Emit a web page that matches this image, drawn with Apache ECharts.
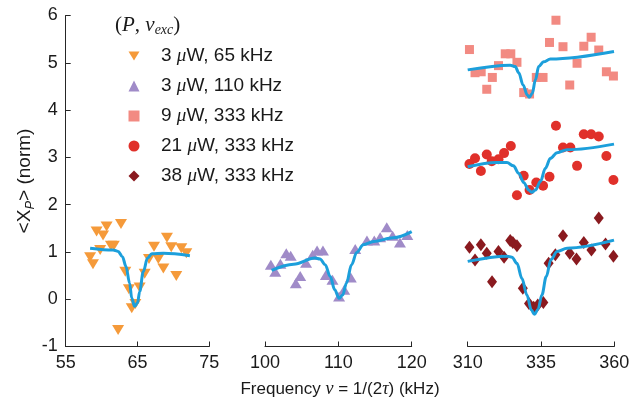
<!DOCTYPE html>
<html>
<head>
<meta charset="utf-8">
<script src="https://cdn.jsdelivr.net/npm/echarts@6/dist/echarts.min.js"></script>
<style>html,body{margin:0;padding:0;background:#fff;}#c{width:632px;height:403px;}</style>
</head>
<body>
<div id="c"></div>
<script>
// ---------- data ----------
const seriesNames = ['3 μW, 65 kHz', '3 μW, 110 kHz', '9 μW, 333 kHz', '21 μW, 333 kHz', '38 μW, 333 kHz'];

const x65 = [58.4,58.8,59.3,59.8,60.2,60.7,61.3,61.7,62.7,62.3,63.3,63.8,64.2,64.7,65.3,66.0,66.6,67.3,67.9,68.6,69.1,69.7,70.4,71.1,71.8];
const y65 = [0.89,0.74,1.43,1.04,1.35,1.54,1.13,1.13,1.59,-0.65,0.58,0.21,-0.19,-0.10,0.25,0.54,0.85,1.11,0.85,0.65,1.30,1.10,0.49,1.08,0.97];
const fit65x = [58.4,61.6,62.3,62.9,63.4,63.9,64.2,64.6,65.0,65.3,65.8,66.4,67.0,68.6,72.3];
const fit65y = [1.08,1.04,1.01,0.90,0.69,0.34,0.02,-0.15,-0.08,0.16,0.58,0.87,0.96,0.97,0.92];

const x110 = [100.8,101.4,102.1,102.9,103.5,104.2,104.8,105.6,106.5,107.1,107.9,108.3,109.2,110.1,110.8,111.7,112.3,113.9,114.9,115.7,116.6,117.4,118.4,119.4];
const y110 = [0.73,0.58,0.75,0.97,0.92,0.34,0.49,0.77,0.94,1.03,1.03,0.51,0.41,0.06,0.20,0.46,1.06,1.24,1.24,1.31,1.52,1.34,1.20,1.36];
const fit110x = [100.9,103.9,106.8,107.5,108.2,108.9,109.5,110.1,110.6,111.1,111.8,112.5,113.4,114.8,117.5,120.0];
const fit110y = [0.61,0.74,0.87,0.85,0.73,0.48,0.20,0.02,0.09,0.34,0.73,0.99,1.15,1.22,1.30,1.43];

const x9 = [310.6,312.5,314.6,316.5,318.4,320.5,322.8,324.7,326.8,329.1,331.1,333.4,335.7,337.9,340.1,342.5,344.8,347.3,349.6,352.1,354.7,357.3,359.7];
const y9 = [5.28,4.79,4.81,4.44,4.69,4.94,5.19,5.19,5.01,4.37,4.34,4.69,4.69,5.43,5.90,5.34,4.53,4.99,5.35,5.54,5.27,4.81,4.72];
const fit9x = [310,324.5,326.2,327.4,328.9,330.3,331.0,332.0,333.1,334.2,335.9,338.2,359.9];
const fit9y = [4.85,4.95,4.92,4.79,4.53,4.32,4.27,4.35,4.64,4.92,5.02,5.08,5.24];

const x21 = [310.6,312.5,314.5,316.5,318.2,320.5,322.4,324.7,326.8,329.1,331.1,333.4,335.7,337.9,340.1,342.5,345.0,347.3,349.6,352.1,354.7,357.3,359.7];
const y21 = [2.86,2.98,2.71,3.06,2.92,2.96,3.09,3.24,2.20,2.61,2.31,2.47,2.40,2.59,3.67,3.21,3.21,2.82,3.49,3.49,3.44,3.03,2.52];
const fit21x = [310,319.9,323.4,325.6,327.4,329.1,330.8,331.9,333.1,334.8,336.5,338.2,340.5,343.9,359.9];
const fit21y = [2.80,2.89,2.89,2.82,2.66,2.47,2.31,2.26,2.31,2.49,2.77,2.98,3.10,3.16,3.28];

const x38 = [310.6,312.5,314.5,316.5,318.3,320.5,322.4,324.5,325.4,326.8,328.8,330.9,332.5,333.9,335.8,337.6,339.9,342.5,344.8,347.1,349.6,352.2,354.7,357.0,359.7];
const y38 = [1.10,0.83,1.15,0.97,0.37,1.01,0.89,1.24,1.20,1.13,0.23,-0.09,-0.17,-0.12,-0.07,0.76,0.94,1.34,0.97,0.85,1.20,1.04,1.72,1.17,0.91];
const fit38x = [310,323.4,325.1,326.8,328.5,330.2,331.7,332.8,334.0,335.3,336.8,338.4,340.5,343.9,359.9];
const fit38y = [0.80,0.91,0.89,0.76,0.44,0.09,-0.23,-0.32,-0.21,0.09,0.48,0.84,1.01,1.08,1.25];

const xRanges = [[55,75,10],[100,120,10],[310,360,25]];
const yTicks = [-1, 6, 1];

// ---------- chart ----------
const FONT = 'Liberation Sans, Arial, sans-serif';
const SERIF = 'Liberation Serif, serif';
const AX = '#262626';
const TXT = '#1a1a1a';
const zip = (a,b) => a.map((v,i)=>[v,b[i]]);

const colors = ['#F59A3A','#A08BC8','#F28A82','#E0302A','#8A1A1F'];
const fitColor = '#1C9FDB';
const downTri = 'path://M0,0 L12,0 L6,10 Z';

const grids = [
  {left: 65.7, top: 15.5, width: 143.6, height: 331, outerBoundsMode:'none', containLabel:false},
  {left: 265, top: 15.5, width: 146.7, height: 331, outerBoundsMode:'none', containLabel:false},
  {left: 467.7, top: 15.5, width: 146.6, height: 331, outerBoundsMode:'none', containLabel:false}
];

const xAxes = xRanges.map((r,i)=>({
  type:'value', gridIndex:i, min:r[0], max:r[1], interval:r[2],
  axisLine:{show:true, onZero:false, lineStyle:{color:AX, width:1}},
  axisTick:{show:true, inside:true, length:5, lineStyle:{color:AX, width:1}},
  axisLabel:{fontSize:18, color:TXT, fontFamily:FONT, margin:8, showMinLabel:true, showMaxLabel:true},
  splitLine:{show:false}
}));

const yAxes = [0,1,2].map(i=>({
  type:'value', gridIndex:i, min:yTicks[0], max:yTicks[1], interval:yTicks[2],
  show: i===0,
  axisLine:{show:true, onZero:false, lineStyle:{color:AX, width:1}},
  axisTick:{show:true, inside:true, length:5, lineStyle:{color:AX, width:1}},
  axisLabel:{fontSize:18, color:TXT, fontFamily:FONT, margin:8, showMinLabel:true, showMaxLabel:true},
  splitLine:{show:false},
  name: i===0 ? '{t|<X}{s|P}{t|> (norm)}' : '',
  nameLocation:'middle', nameGap:29, nameRotate:90,
  nameTextStyle:{rich:{
    t:{fontSize:19, fontFamily:FONT, color:TXT},
    s:{fontSize:13, fontFamily:FONT, fontStyle:'italic', color:TXT, padding:[10,0,0,0]}
  }}
}));

const scatterDefs = [
  {x:x65, y:y65, g:0, symbol:downTri, size:[12,10]},
  {x:x110, y:y110, g:1, symbol:'triangle', size:[12,10]},
  {x:x9, y:y9, g:2, symbol:'rect', size:[9,9]},
  {x:x21, y:y21, g:2, symbol:'circle', size:10},
  {x:x38, y:y38, g:2, symbol:'diamond', size:[10,13]}
];
const fitDefs = [
  {x:fit65x, y:fit65y, g:0},
  {x:fit110x, y:fit110y, g:1},
  {x:fit9x, y:fit9y, g:2},
  {x:fit21x, y:fit21y, g:2},
  {x:fit38x, y:fit38y, g:2}
];

const series = [];
scatterDefs.forEach((d,i)=>{
  series.push({
    type:'scatter', name:seriesNames[i], xAxisIndex:d.g, yAxisIndex:d.g,
    data:zip(d.x,d.y), symbol:d.symbol, symbolSize:d.size,
    itemStyle:{color:colors[i], opacity:1}, z:2
  });
});
fitDefs.forEach((d,i)=>{
  series.push({
    type:'line', name:'fit'+i, xAxisIndex:d.g, yAxisIndex:d.g,
    data:zip(d.x,d.y), smooth:0.35, smoothMonotone:'x', showSymbol:false, symbol:'none',
    lineStyle:{color:fitColor, width:3}, z:3, silent:true
  });
});

const chart = echarts.init(document.getElementById('c'), null, {renderer:'canvas'});
chart.setOption({
  animation:false,
  backgroundColor:'#fff',
  title:{
    text:'{r|(}{i|P}{r|, }{i|ν}{s|exc}{r|)}',
    left:110, top:9,
    textStyle:{fontWeight:'normal', rich:{
      r:{fontSize:21, fontFamily:SERIF, fontWeight:'normal', color:TXT},
      i:{fontSize:21, fontFamily:SERIF, fontStyle:'italic', fontWeight:'normal', color:TXT},
      s:{fontSize:14, fontFamily:SERIF, fontStyle:'italic', fontWeight:'normal', color:TXT, padding:[9,0,0,0]}
    }}
  },
  legend:{
    data:seriesNames, orient:'vertical', left:123.5, top:41,
    itemWidth:11, itemHeight:11, itemGap:10,
    formatter:(n)=>{ const p=n.split('μ'); return '{g|}{n|'+p[0]+'}{m|μ}{n|'+p[1]+'}'; },
    textStyle:{rich:{
      g:{width:16.5, height:20, lineHeight:20},
      n:{fontSize:19, fontFamily:FONT, color:TXT, lineHeight:20},
      m:{fontSize:19, fontFamily:SERIF, fontStyle:'italic', color:TXT, lineHeight:20}
    }}
  },
  graphic:[{
    type:'text', x:340, y:389, silent:true,
    style:{
      text:'{t|Frequency }{i|ν}{t| = 1/(2}{i|τ}{t|) (kHz)}',
      align:'center', verticalAlign:'middle',
      rich:{
        t:{fontSize:17, fontFamily:FONT, fill:TXT},
        i:{fontSize:18, fontFamily:SERIF, fontStyle:'italic', fill:TXT}
      }
    }
  }],
  grid:grids, xAxis:xAxes, yAxis:yAxes, series:series
});
</script>
</body>
</html>
